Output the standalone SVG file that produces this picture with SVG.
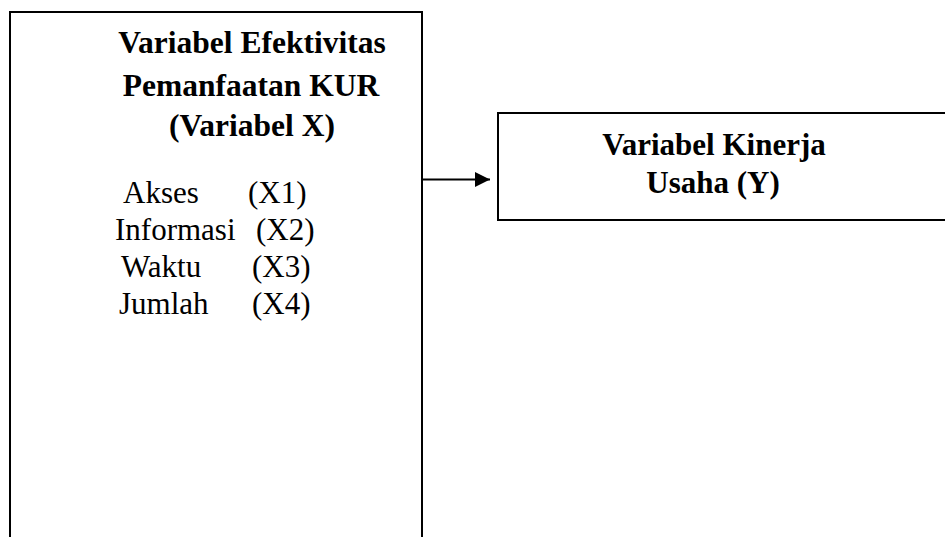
<svg xmlns="http://www.w3.org/2000/svg" width="945" height="537" viewBox="0 0 945 537">
<style>
.box{fill:#fff;stroke:#000;stroke-width:2}
.t{font-family:"Liberation Serif","Times New Roman",serif;fill:#000}
.b{font-weight:bold;text-anchor:middle}
.r{font-size:31px}
</style>
<defs>
<marker id="ah" markerWidth="16" markerHeight="16" refX="15" refY="8" orient="auto" markerUnits="userSpaceOnUse">
<path d="M0,0.5 L15,8 L0,15.5 Z" fill="#000"/>
</marker>
</defs>
<rect width="945" height="537" fill="#fff"/>
<g id="nodeX">
<path class="box" d="M10,540 L10,12 L422,12 L422,540"/>
<g class="t b" font-size="31.5">
<text x="252" y="53">Variabel Efektivitas</text>
<text x="251" y="96">Pemanfaatan KUR</text>
<text x="252" y="136">(Variabel X)</text>
</g>
<g class="t r">
<text x="123" y="203">Akses</text><text x="248" y="203">(X1)</text>
<text x="115" y="240">Informasi</text><text x="256" y="240">(X2)</text>
<text x="121" y="277">Waktu</text><text x="252" y="277">(X3)</text>
<text x="119" y="314">Jumlah</text><text x="252" y="314">(X4)</text>
</g>
</g>
<g id="nodeY">
<rect class="box" x="498" y="113" width="460" height="107"/>
<g class="t b" font-size="31">
<text x="714" y="155">Variabel Kinerja</text>
<text x="713" y="193">Usaha (Y)</text>
</g>
</g>
<g id="connectors">
<line x1="422" y1="179.5" x2="490" y2="179.5" stroke="#000" stroke-width="2" marker-end="url(#ah)"/>
</g>
</svg>
